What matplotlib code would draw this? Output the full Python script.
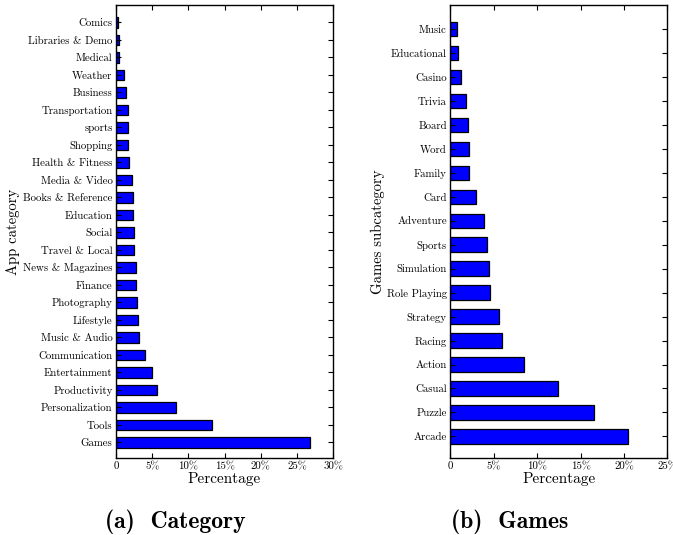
import numpy as np
import matplotlib
matplotlib.use('Agg')
import matplotlib.pyplot as plt

# app categories, bottom to top
app_categories = ['Games', 'Tools', 'Personalization', 'Productivity', 'Entertainment',
                  'Communication', 'Music & Audio', 'Lifestyle', 'Photography', 'Finance',
                  'News & Magazines', 'Travel & Local', 'Social', 'Education',
                  'Books & Reference', 'Media & Video', 'Health & Fitness', 'Shopping',
                  'sports', 'Transportation', 'Business', 'Weather', 'Medical',
                  'Libraries & Demo', 'Comics']
app_pct = [26.8, 13.3, 8.3, 5.6, 4.95, 3.95, 3.2, 3.05, 2.88, 2.82,
           2.73, 2.5, 2.45, 2.4, 2.36, 2.27, 1.8, 1.7, 1.66, 1.65,
           1.35, 1.1, 0.42, 0.38, 0.24]

# game subcategories, bottom to top
game_categories = ['Arcade', 'Puzzle', 'Casual', 'Action', 'Racing', 'Strategy',
                   'Role Playing', 'Simulation', 'Sports', 'Adventure', 'Card',
                   'Family', 'Word', 'Board', 'Trivia', 'Casino', 'Educational', 'Music']
game_pct = [20.5, 16.55, 12.4, 8.5, 5.92, 5.57, 4.54, 4.5, 4.23, 3.85, 2.96,
            2.16, 2.16, 2.07, 1.84, 1.29, 0.92, 0.81]

app_ticks = [0, 5, 10, 15, 20, 25, 30]
game_ticks = [0, 5, 10, 15, 20, 25]

plt.rcParams['font.family'] = 'cmr10'
plt.rcParams['axes.formatter.use_mathtext'] = True
plt.rcParams['mathtext.fontset'] = 'cm'


def draw_panel(ax, labels, values, ticks, ylabel, ylab_x):
    pos = np.arange(len(labels))
    ax.barh(pos, values, height=0.6, color='#0000ff', edgecolor='black', linewidth=0.9)
    ax.set_yticks(pos)
    ax.set_yticklabels(labels, fontsize=7.8)
    ax.set_xticks(ticks)
    ax.set_xticklabels(['0'] + ['%d%%' % t for t in ticks[1:]], fontsize=7.8)
    ax.set_xlim(ticks[0], ticks[-1])
    ax.set_ylim(-0.9, len(labels) - 1 + 1.0)
    ax.tick_params(direction='in', top=True, right=True, length=3.5, width=0.8, pad=2.5)
    for s in ax.spines.values():
        s.set_linewidth(1.0)
    ax.set_xlabel('Percentage', fontsize=11)
    ax.xaxis.set_label_coords(0.5, -0.031)
    ax.set_ylabel(ylabel, fontsize=10.6)
    ax.yaxis.set_label_coords(ylab_x, 0.5)


fig = plt.figure(figsize=(6.73, 5.35), dpi=100)
ax1 = fig.add_axes([116 / 673, 1 - 458 / 535, 217 / 673, 453 / 535])
ax2 = fig.add_axes([450.3 / 673, 1 - 458 / 535, 217 / 673, 453 / 535])

draw_panel(ax1, app_categories, app_pct, app_ticks, 'App category', -0.442)
draw_panel(ax2, game_categories, game_pct, game_ticks, 'Games subcategory', -0.301)

fig.text(175 / 673, 1 - 522 / 535, '(a)  Category', family='cmb10', fontsize=17,
         ha='center', va='center')
fig.text(510 / 673, 1 - 522 / 535, '(b)  Games', family='cmb10', fontsize=17,
         ha='center', va='center')

fig.savefig('out.png', dpi=100)
